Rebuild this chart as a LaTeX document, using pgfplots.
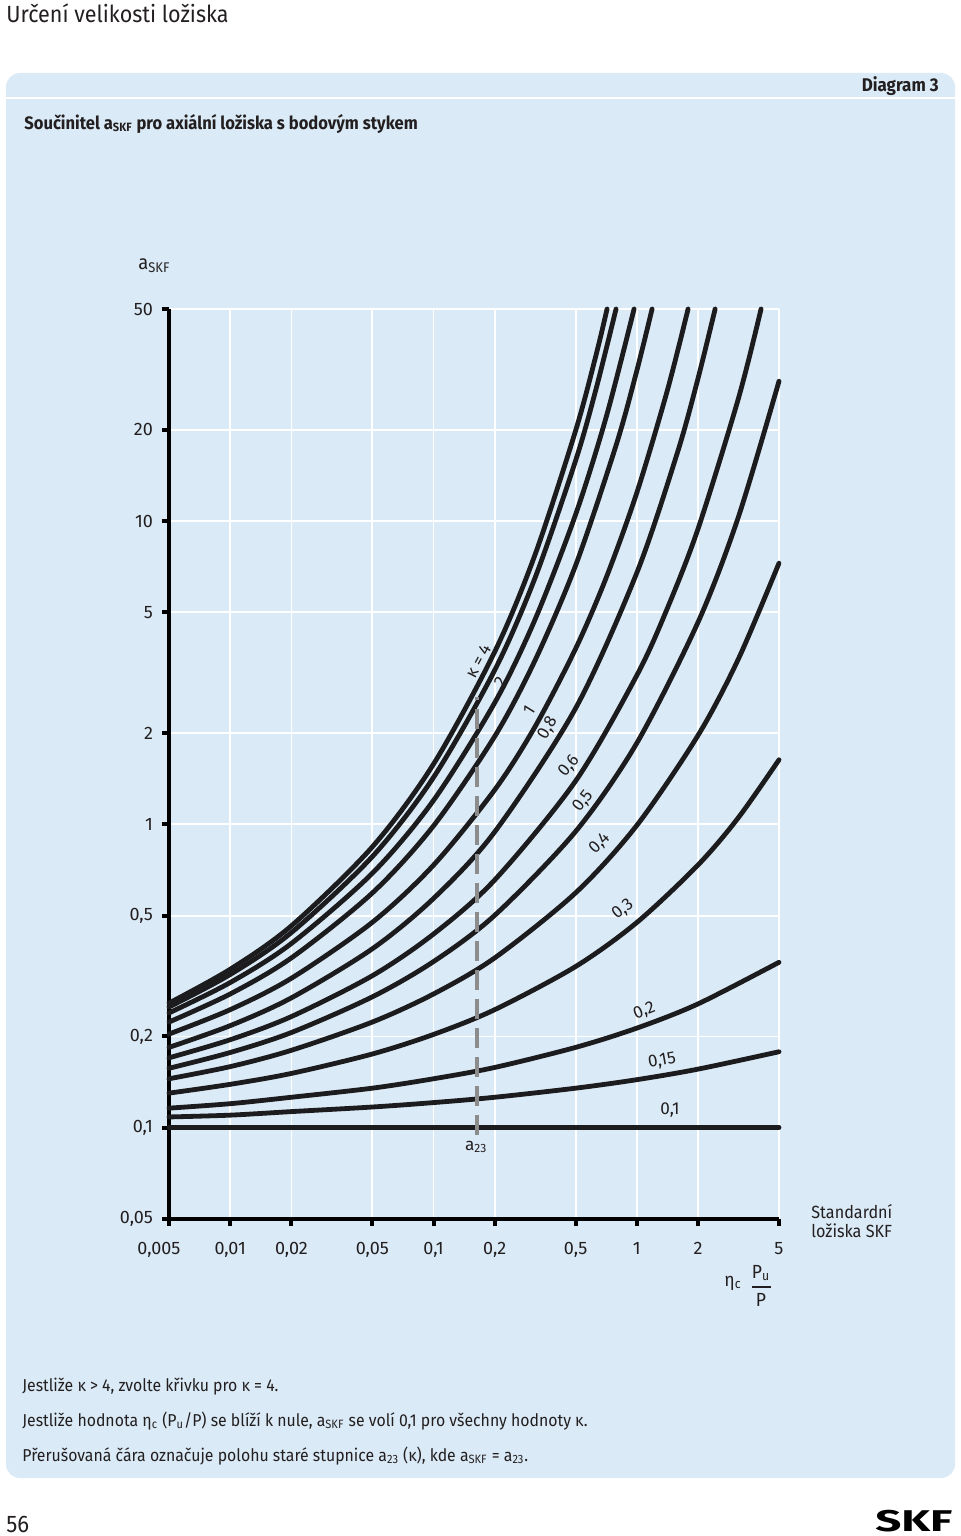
\documentclass[border=0pt]{standalone}
\usepackage{pgfplots}
\pgfplotsset{compat=1.18}
\usepackage{fontspec}
\setmainfont{Fira Sans}[FakeStretch=0.92]
\newfontfamily\tickfont{Fira Sans}
\definecolor{txt}{RGB}{35,31,32}
\definecolor{panel}{RGB}{218,234,246}
\definecolor{dashgray}{RGB}{140,140,140}
\definecolor{crv}{RGB}{28,28,30}
\newcommand\tf{\tickfont\fontsize{9}{10}\selectfont}
\begin{document}
\begin{tikzpicture}
\begin{scope}[x=0.5pt,y=-0.5pt]
  \fill[white] (0,0) rectangle (960,1536);
  \fill[panel, rounded corners=7pt] (6,73) rectangle (955,1478);
  \draw[white, line width=1.2pt] (6,98) -- (955,98);
  \node[anchor=base west, text=txt, font=\fontsize{11.7}{14}\selectfont, inner sep=0] at (6,23) {Určení velikosti ložiska};
  \node[anchor=base east, text=txt, font=\bfseries\fontsize{9.2}{10}\selectfont, inner sep=0] at (939,92) {Diagram 3};
  \node[anchor=base west, text=txt, font=\bfseries\fontsize{9}{10}\selectfont, inner sep=0] at (24,129) {Součinitel a\textsubscript{SKF} pro axiální ložiska s bodovým stykem};
  \node[anchor=base west, text=txt, font=\fontsize{10}{11}\selectfont, inner sep=0] at (138,269) {a\textsubscript{SKF}};
  \node[anchor=base west, text=txt, font=\fontsize{8.8}{10}\selectfont, inner sep=0] at (811,1218) {Standardní};
  \node[anchor=base west, text=txt, font=\fontsize{8.8}{10}\selectfont, inner sep=0] at (811,1237) {ložiska SKF};
  \node[text=txt, font=\fontsize{9.5}{10}\selectfont, inner sep=0] at (733,1283) {η\textsubscript{c}};
  \node[text=txt, font=\fontsize{9.5}{10}\selectfont, inner sep=0] at (761,1273) {P\textsubscript{u}};
  \draw[txt, line width=0.6pt] (752,1287) -- (771,1287);
  \node[text=txt, font=\fontsize{9.5}{10}\selectfont, inner sep=0] at (761,1300) {P};
  \node[anchor=base west, text=txt, font=\fontsize{8.6}{10}\selectfont, inner sep=0] at (22,1391) {Jestliže κ > 4, zvolte křivku pro κ = 4.};
  \node[anchor=base west, text=txt, font=\fontsize{8.6}{10}\selectfont, inner sep=0] at (22,1426) {Jestliže hodnota η\textsubscript{c} (P\textsubscript{u}/P) se blíží k nule, a\textsubscript{SKF} se volí 0,1 pro všechny hodnoty κ.};
  \node[anchor=base west, text=txt, font=\fontsize{8.6}{10}\selectfont, inner sep=0] at (22,1461) {Přerušovaná čára označuje polohu staré stupnice a\textsubscript{23} (κ), kde a\textsubscript{SKF} = a\textsubscript{23}.};
  \node[anchor=base west, text=txt, font=\fontsize{12}{14}\selectfont, inner sep=0] at (6,1532) {56};
  \node[anchor=base east, text=black, font=\bfseries\fontsize{15}{16}\selectfont, inner sep=0, xscale=1.65] at (953,1531) {SKF};
\end{scope}
\begin{axis}[
  at={(84.5pt,-609.5pt)}, anchor=south west,
  scale only axis, width=305pt, height=455pt,
  xmode=log, ymode=log,
  xmin=0.005, xmax=5, ymin=0.05, ymax=50,
  axis x line=bottom, axis y line=left,
  axis line style={-, line width=2pt, black},
  xtick={0.005,0.01,0.02,0.05,0.1,0.2,0.5,1,2,5},
  xticklabels={{0,005\kern10pt},{0,01},{0,02},{0,05},{0,1},{0,2},{0,5},{1},{2},{5}},
  ytick={0.05,0.1,0.2,0.5,1,2,5,10,20,50},
  yticklabels={{0,05},{0,1},{0,2},{0,5},{1},{2},{5},{10},{20},{50}},
  minor xtick={}, minor ytick={},
  tick align=outside, major tick length=3.5pt,
  tick style={line width=2pt, black},
  xticklabel style={font=\tf, text=txt, yshift=-4.5pt},
  yticklabel style={font=\tf, text=txt, xshift=-1pt},
  grid=major, major grid style={white, line width=0.9pt, solid},
  clip=false,
  curve/.style={crv, line width=2.4pt, line cap=round, smooth, mark=none},
]
% kappa = 4
\addplot[curve] coordinates {(0.005,0.2575)(0.01,0.333)(0.02,0.463)(0.05,0.843)(0.1,1.581)(0.2,3.708)(0.3155,7.74)(0.5,19.88)(0.6295,35.2)(0.7135,50)};
% kappa = 2
\addplot[curve] coordinates {(0.005,0.250)(0.01,0.320)(0.02,0.440)(0.05,0.783)(0.1,1.429)(0.2,3.225)(0.3155,6.49)(0.5,15.84)(0.6295,27.2)(0.790,50)};
\addplot[curve] coordinates {(0.005,0.239)(0.01,0.301)(0.02,0.405)(0.05,0.690)(0.1,1.200)(0.2,2.519)(0.3155,4.731)(0.5,10.52)(0.7063,22.0)(0.969,50)};
\addplot[curve] coordinates {(0.005,0.223)(0.01,0.276)(0.02,0.363)(0.05,0.594)(0.1,0.989)(0.2,1.951)(0.3155,3.47)(0.5,7.147)(0.7924,17.87)(1,31.35)(1.188,50)};
\addplot[curve] coordinates {(0.005,0.2036)(0.01,0.245)(0.02,0.311)(0.05,0.4755)(0.1,0.734)(0.2,1.300)(0.3155,2.098)(0.5,3.799)(0.7063,6.50)(1,12.41)(1.409,26.8)(1.786,50)};
\addplot[curve] coordinates {(0.005,0.184)(0.01,0.217)(0.02,0.268)(0.05,0.389)(0.1,0.570)(0.2,0.945)(0.5,2.416)(1,6.757)(1.581,16.77)(1.9905,29.2)(2.426,50)};
\addplot[curve] coordinates {(0.005,0.170)(0.01,0.195)(0.02,0.2325)(0.05,0.317)(0.1,0.435)(0.2,0.656)(0.5,1.391)(1,3.102)(1.409,5.137)(2,9.435)(3.155,25.3)(4.081,50)};
\addplot[curve] coordinates {(0.005,0.157)(0.01,0.177)(0.02,0.206)(0.05,0.270)(0.1,0.353)(0.2,0.5015)(0.5,0.948)(1,1.855)(2,4.643)(3.155,10.30)(5,28.9)};
\addplot[curve] coordinates {(0.005,0.145)(0.01,0.159)(0.02,0.180)(0.05,0.223)(0.1,0.276)(0.2,0.363)(0.5,0.595)(1,0.993)(2,1.967)(3.155,3.507)(5,7.263)};
\addplot[curve] coordinates {(0.005,0.130)(0.01,0.139)(0.02,0.151)(0.05,0.175)(0.1,0.203)(0.2,0.245)(0.5,0.340)(1,0.475)(2,0.735)(3.155,1.052)(5,1.633)};
\addplot[curve] coordinates {(0.005,0.116)(0.01,0.120)(0.02,0.126)(0.05,0.135)(0.1,0.145)(0.2,0.158)(0.5,0.184)(1,0.213)(2,0.256)(5,0.351)};
\addplot[curve] coordinates {(0.005,0.1085)(0.01,0.110)(0.02,0.113)(0.05,0.117)(0.1,0.121)(0.2,0.126)(0.5,0.135)(1,0.144)(2,0.156)(5,0.178)};
\addplot[curve] coordinates {(0.005,0.1)(5,0.1)};
% old a23 scale
\addplot[dashgray, line width=2pt, line cap=butt, dash pattern=on 10pt off 4.5pt] coordinates {(0.1636,0.0946)(0.1636,2.62)};
% labels
\begin{scope}[every node/.style={font=\tickfont\fontsize{8.6}{10}\selectfont, text=txt, inner sep=0}]
\node[rotate=62] at (axis cs:0.166,3.45) {κ = 4};
\node[rotate=60] at (axis cs:0.213,2.96) {2};
\node[rotate=58] at (axis cs:0.295,2.38) {1};
\node[rotate=60] at (axis cs:0.365,2.07) {0,8};
\node[rotate=50] at (axis cs:0.464,1.56) {0,6};
\node[rotate=52] at (axis cs:0.544,1.19) {0,5};
\node[rotate=45] at (axis cs:0.657,0.865) {0,4};
\node[rotate=38] at (axis cs:0.855,0.524) {0,3};
\node[rotate=22] at (axis cs:1.09,0.242) {0,2};
\node[rotate=10] at (axis cs:1.33,0.166) {0,15};
\node at (axis cs:1.456,0.1140) {0,1};
\node at (axis cs:0.162,0.0864) {a\textsubscript{23}};
\end{scope}
\end{axis}
\end{tikzpicture}
\end{document}
